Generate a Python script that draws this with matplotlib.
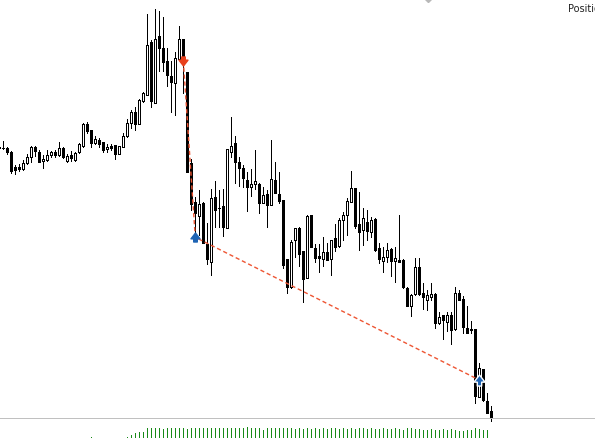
import matplotlib
matplotlib.use("Agg")
import matplotlib.pyplot as plt
from matplotlib.patches import Rectangle
from matplotlib.lines import Line2D
from matplotlib.path import Path

# ---------------- data ----------------
candle_index = list(range(-1, 123))
opens = [302, 302.5, 302.5, 298, 283, 283, 281.5, 287.3, 293, 303, 298, 289, 290.5, 295, 298, 295, 302.5, 289.5,
         295.5, 290, 298, 304, 326, 320, 307.5, 310, 308, 301, 304.3, 305, 296.5, 303, 314, 327, 338, 326, 349,
         355, 408, 347.3, 414, 401.7, 389, 374, 366.7, 390.7, 411, 378.3, 287.3, 248.3, 234, 247.3, 206, 188.3,
         252.7, 241.7, 244, 221.7, 298.3, 306.7, 288.3, 281.7, 270, 263.3, 266, 266, 247.3, 256, 245, 270, 256,
         250, 190.7, 162.7, 210, 222.3, 199, 171.7, 235, 202.3, 194.3, 191, 197.7, 190.7, 212.3, 204.3, 230, 235,
         248.3, 262.3, 225.7, 220, 227.7, 218.3, 231, 201.7, 189.3, 192.7, 201, 189.3, 190, 190, 162.3, 144.3,
         155.7, 182.7, 156.7, 150, 153.3, 156, 127.3, 135, 128.3, 135, 120.7, 157.3, 151, 121.7, 121, 120.7, 53.3,
         81, 49, 39]
highs = [305, 309, 303, 299, 285, 286, 290, 296.5, 304, 304, 300, 295.5, 300, 299.5, 300, 308.5, 303, 296,
         299, 298, 307, 327.3, 328, 320, 314, 312.3, 308.5, 306.5, 306, 305, 304.5, 317.5, 331, 340, 343, 351,
         358.3, 436, 410, 440.7, 439, 433.3, 401.7, 389, 398.3, 424, 411, 378.3, 291, 253.3, 260, 248, 227, 261,
         269.3, 260, 261, 301, 332.7, 314, 293.3, 285, 278.3, 280.7, 300, 267, 262.7, 260, 310, 288.3, 278.3,
         250, 191, 210, 222, 223, 199, 235, 235, 205.7, 205.7, 213.3, 206.7, 210, 226, 232.3, 238.3, 251.7, 279,
         262.3, 258.3, 241.7, 240, 233.3, 231.7, 206.7, 203.3, 206.7, 201.7, 203.3, 235, 191, 163, 156, 191.7,
         191.7, 166.7, 160, 166.7, 156.7, 138.3, 135, 138.3, 138.3, 163.3, 160, 154, 144, 129.3, 120.7, 86.7,
         81, 56.7, 44]
lows = [301, 301.5, 296, 277, 276, 279, 280, 286, 288, 294, 288, 282.5, 289.5, 293, 293.5, 294, 292.5, 288.5,
        289, 289, 297, 303.5, 317.5, 303.5, 305.7, 303.3, 298.5, 298.3, 300, 291.5, 296, 302.7, 313.3, 322, 320,
        326, 348.3, 355, 343, 347.3, 379.3, 379.3, 364.5, 338.3, 335, 390.7, 357.3, 278, 240, 217, 215, 207, 186,
        175, 222.7, 223, 214, 221.7, 293.3, 266.7, 264, 263.3, 239.3, 254, 260.7, 236.7, 246.7, 223.3, 245, 256.7,
        247.3, 181.7, 157.3, 162, 193.3, 184.3, 147.7, 171.7, 203.3, 188.3, 178.3, 184.3, 190, 175, 199.3, 203.3,
        210, 215, 248.3, 222.3, 200, 205, 210, 213.3, 199, 186.7, 178.3, 188.3, 174.3, 168.3, 187.7, 162, 144,
        134.3, 155, 155, 141, 140, 150, 121.7, 126, 111, 119.3, 106, 120, 150, 117, 117.3, 117.3, 47.3, 53.3,
        49.3, 36.7, 29.3]
closes = [303, 303, 298.5, 279, 280, 281, 287, 293, 303, 299, 288.5, 291.5, 295.5, 298, 295, 302.5, 293, 294,
          292.5, 297.3, 306.5, 326, 319, 307, 311, 306.5, 300.5, 303.3, 301.7, 296.5, 304, 314.5, 326.7, 338, 326,
          350, 356.7, 404.7, 349, 411, 401.7, 388.3, 375, 368, 391.7, 411, 386.7, 278.3, 246, 237.3, 246, 207.3,
          191, 251.7, 240, 241.7, 223.3, 300.7, 304, 288.3, 281.7, 272.3, 263.3, 266, 269, 246.7, 255, 245, 270.7,
          256.7, 249.3, 185, 162.7, 208.3, 221.7, 195.7, 171, 234.3, 203.3, 192.3, 192.3, 197.7, 190, 210, 203.3,
          230, 235, 249, 262.3, 224.3, 217.7, 231.7, 219, 230, 200, 191, 192.7, 200, 189, 191.7, 187.7, 163, 144.3,
          155, 182.7, 155.7, 152.7, 155, 156, 127.3, 133.3, 130, 135, 120, 156.7, 150, 122.7, 117.3, 120, 54.3,
          81.7, 50, 37.3, 31.7]

volume_index = [22] + list(range(31, 122))
volumes = [22.7,
           23.3, 24.7, 26.7, 28, 28,
           32, 32, 32, 32, 30.7, 32, 32, 32, 32, 32, 31.3, 32, 32, 32, 32, 32, 32, 32, 32, 32,
           32, 32, 32, 32, 32, 33.3, 32, 32, 32, 30, 32, 32, 32, 32, 32, 32, 32, 31, 32,
           31.5, 32, 31, 32, 31.5, 32, 31, 32, 32, 31, 32, 31.5, 32, 31, 32, 32, 31, 32, 31.5, 31,
           32, 31, 31.5, 32, 31,
           30, 31.7, 31.7, 31, 31, 30, 30, 31, 30, 30, 31, 30, 31, 30, 29.3, 29.3, 30, 30, 31.7, 31,
           30, 30]

sell_open_index, sell_open_price = [45], [389.3]
trade_index = [45, 48, 119]
trade_price = [389.3, 212.7, 70]
close_index = [48, 119]
close_price = [212.7, 70]
hidden_marker_index, hidden_marker_price = [106.2], [452]

# ---------------- figure ----------------
W, H = 595, 438
fig = plt.figure(figsize=(W / 100, H / 100), dpi=100)
fig.patch.set_facecolor("white")

line_y = 418.3
ax = fig.add_axes([0, (H - line_y) / H, 1, line_y / H])
ax.set_xlim(-0.825, 147.925)
ax.set_ylim(450 - line_y, 450)
ax.axis("off")

px = 0.72  # one pixel in points
bw = 0.5
for i, o, h, l, c in zip(candle_index, opens, highs, lows, closes):
    ax.add_line(Line2D([i, i], [l, h], color="black", lw=px, antialiased=False,
                       zorder=2, clip_on=False))
    lo, hi = min(o, c), max(o, c)
    if hi - lo < 0.8:
        ax.add_line(Line2D([i - bw / 2, i + bw / 2], [o, o], color="black", lw=px,
                           antialiased=False, zorder=3, clip_on=False))
    else:
        fc = "white" if c > o else "black"
        ax.add_patch(Rectangle((i - bw / 2, lo), bw, hi - lo, facecolor=fc, edgecolor="black",
                               lw=px, antialiased=False, zorder=3, clip_on=False))

# trade lines
ax.plot(trade_index, trade_price, color="#ee5533", lw=1.0, ls=(0, (3, 2)), zorder=4)

down_arrow = Path([(-0.5, 0.15), (-0.2, 0.15), (-0.2, 0.5), (0.2, 0.5), (0.2, 0.15), (0.5, 0.15),
                   (0, -0.5), (-0.5, 0.15)], closed=True)
up_arrow = Path([(-0.5, -0.15), (-0.2, -0.15), (-0.2, -0.5), (0.2, -0.5), (0.2, -0.15), (0.5, -0.15),
                 (0, 0.5), (-0.5, -0.15)], closed=True)
ax.plot(sell_open_index, sell_open_price, ls="none", marker=down_arrow, ms=6.5, color="#e8401c",
        mec="#e8401c", zorder=5)
ax.plot(close_index[:1], close_price[:1], ls="none", marker=up_arrow, ms=6.5, color="#1e64b4",
        mec="#1e64b4", zorder=5)
ax.plot(close_index[1:], close_price[1:], ls="none", marker=up_arrow, ms=8, color="#1e64b4",
        mec="white", mew=1.0, zorder=5)
ax.plot(hidden_marker_index, hidden_marker_price, ls="none", marker="D", ms=4, color="#b8b8b8",
        clip_on=False, zorder=5)

# divider
fig.add_artist(Line2D([0, 1], [(H - line_y) / H] * 2, transform=fig.transFigure,
                      color="#c0c0c0", lw=px, antialiased=False))

# volume panel
vol_top, vol_bottom = 419.0, 460.0
vax = fig.add_axes([0, (H - vol_bottom) / H, 1, (vol_bottom - vol_top) / H])
vax.set_xlim(-0.825, 147.925)
vax.set_ylim(0, vol_bottom - vol_top)
vax.axis("off")
vax.vlines(volume_index, 0, volumes, color="#178a17", lw=px, antialiased=False)

fig.text(568 / W, 1 - 9 / H, "Position", ha="left", va="center", fontsize=7, color="#222222")

fig.savefig("out.png", dpi=100, facecolor="white")
